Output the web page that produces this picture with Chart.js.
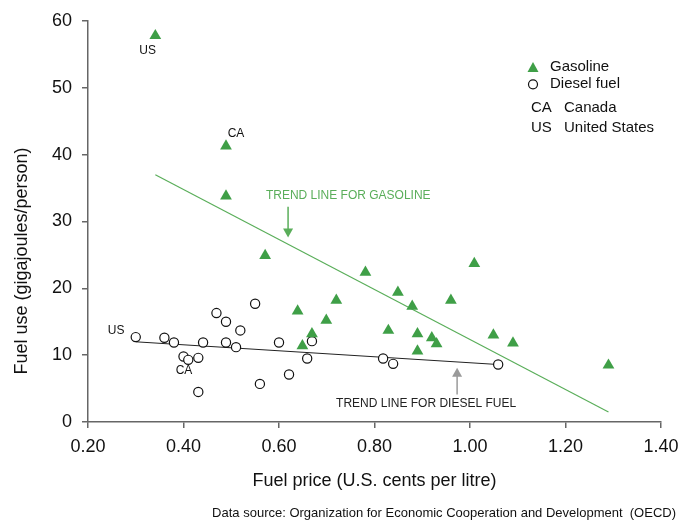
<!DOCTYPE html>
<html>
<head>
<meta charset="utf-8">
<script src="https://cdn.jsdelivr.net/npm/chart.js@4"></script>
<style>
  html, body { margin: 0; padding: 0; background: #fff; }
  #wrap { width: 694px; height: 520px; }
</style>
</head>
<body>
<div id="wrap"><canvas id="mainChart" width="694" height="520"></canvas></div>
<script>
// fuel price (US cents / litre) vs fuel use (GJ / person)
var gasPrice = [0.341, 0.489, 0.489, 0.571, 0.639, 0.649, 0.669, 0.699, 0.720, 0.781, 0.829,
                0.849, 0.879, 0.890, 0.890, 0.920, 0.930, 0.960, 1.009, 1.049, 1.090, 1.290];
var gasUse   = [57.8, 41.3, 33.8, 24.9, 16.6, 11.4, 13.2, 15.2, 18.2, 22.4, 13.7,
                19.4, 17.3, 13.2, 10.6, 12.6, 11.7, 18.2, 23.7, 13.0, 11.8, 8.5];

var dieselPrice = [0.300, 0.360, 0.380, 0.400, 0.410, 0.431, 0.441, 0.431, 0.469, 0.489, 0.489,
                   0.510, 0.519, 0.550, 0.560, 0.600, 0.621, 0.659, 0.669, 0.818, 0.839, 1.059];
var dieselUse   = [12.7, 12.6, 11.9, 9.8, 9.3, 9.6, 11.9, 4.5, 16.3, 15.0, 11.9,
                   11.2, 13.7, 17.7, 5.7, 11.9, 7.1, 9.5, 12.1, 9.5, 8.7, 8.6];

var gasTrendX = [0.341, 1.290];
var gasTrendY = [37.0, 1.5];
var dieselTrendX = [0.300, 1.059];
var dieselTrendY = [12.0, 8.6];

var xTicks = [0.2, 0.4, 0.6, 0.8, 1.0, 1.2, 1.4];
var yTicks = [0, 10, 20, 30, 40, 50, 60];

// text notes: [text, x, y, colour]
var notes = [
  ['US', 0.325, 55.6, '#111'],
  ['CA', 0.510, 43.2, '#111'],
  ['US', 0.259, 13.7, '#111'],
  ['CA', 0.401, 7.7, '#111'],
  ['TREND LINE FOR GASOLINE', 0.745, 33.9, '#5aae5a'],
  ['TREND LINE FOR DIESEL FUEL', 0.908, 2.8, '#222']
];
// arrows: [x, yFrom, yTip, colour]
var arrows = [
  [0.619, 32.2, 27.6, '#5aae5a'],
  [0.973, 4.1, 8.1, '#9a9a9a']
];

function pts(xs, ys) {
  return xs.map(function(x, i) { return { x: x, y: ys[i] }; });
}

var GREEN = '#3f9f47';
var AXIS = '#666';
var FONT = "'Liberation Sans', Arial, sans-serif";

var extras = {
  id: 'extras',
  afterDatasetsDraw: function(chart) {
    var ctx = chart.ctx;
    var xs = chart.scales.x, ys = chart.scales.y;
    ctx.save();
    ctx.textBaseline = 'middle';
    ctx.textAlign = 'center';
    ctx.font = '12px ' + FONT;
    notes.forEach(function(n) {
      ctx.fillStyle = n[3];
      ctx.fillText(n[0], xs.getPixelForValue(n[1]), ys.getPixelForValue(n[2]));
    });

    arrows.forEach(function(a) {
      var px = xs.getPixelForValue(a[0]);
      var y0 = ys.getPixelForValue(a[1]);
      var y1 = ys.getPixelForValue(a[2]);
      var dir = y1 > y0 ? 1 : -1;
      ctx.strokeStyle = a[3];
      ctx.fillStyle = a[3];
      ctx.lineWidth = 1.5;
      ctx.beginPath();
      ctx.moveTo(px, y0);
      ctx.lineTo(px, y1 - dir * 8);
      ctx.stroke();
      ctx.beginPath();
      ctx.moveTo(px, y1);
      ctx.lineTo(px - 5, y1 - dir * 9);
      ctx.lineTo(px + 5, y1 - dir * 9);
      ctx.closePath();
      ctx.fill();
    });

    // legend
    var lx = 533, tx = 550;
    ctx.textAlign = 'left';
    ctx.font = '15px ' + FONT;
    ctx.fillStyle = GREEN;
    ctx.beginPath();
    ctx.moveTo(lx, 62);
    ctx.lineTo(lx + 5.5, 72);
    ctx.lineTo(lx - 5.5, 72);
    ctx.closePath();
    ctx.fill();
    ctx.fillStyle = '#111';
    ctx.fillText('Gasoline', tx, 67);
    ctx.strokeStyle = '#111';
    ctx.lineWidth = 1.2;
    ctx.beginPath();
    ctx.arc(lx, 84.3, 4.5, 0, Math.PI * 2);
    ctx.stroke();
    ctx.fillText('Diesel fuel', tx, 84);
    ctx.fillText('CA', 531, 108);
    ctx.fillText('Canada', 564, 108);
    ctx.fillText('US', 531, 128);
    ctx.fillText('United States', 564, 128);

    // y title
    ctx.save();
    ctx.translate(22, 261);
    ctx.rotate(-Math.PI / 2);
    ctx.textAlign = 'center';
    ctx.font = '18px ' + FONT;
    ctx.fillText('Fuel use (gigajoules/person)', 0, 0);
    ctx.restore();

    // source line
    ctx.textAlign = 'right';
    ctx.font = '13px ' + FONT;
    ctx.fillText('Data source: Organization for Economic Cooperation and Development  (OECD)', 676, 513);
    ctx.restore();
  }
};

new Chart(document.getElementById('mainChart').getContext('2d'), {
  type: 'scatter',
  data: {
    datasets: [
      {
        label: 'Gasoline', data: pts(gasPrice, gasUse), order: 1,
        pointStyle: 'triangle', pointRadius: 6.8, backgroundColor: GREEN, borderColor: GREEN, borderWidth: 0
      },
      {
        label: 'Diesel fuel', data: pts(dieselPrice, dieselUse), order: 1,
        pointStyle: 'circle', pointRadius: 4.6, backgroundColor: '#fff', borderColor: '#111', borderWidth: 1.2
      },
      {
        label: 'gas trend', data: pts(gasTrendX, gasTrendY), order: 2, showLine: true,
        pointRadius: 0, borderColor: '#5aae5a', borderWidth: 1.2
      },
      {
        label: 'diesel trend', data: pts(dieselTrendX, dieselTrendY), order: 2, showLine: true,
        pointRadius: 0, borderColor: '#222', borderWidth: 1
      }
    ]
  },
  options: {
    responsive: false,
    devicePixelRatio: 1,
    animation: false,
    layout: { padding: { left: 0, right: 33, top: 21, bottom: 0 } },
    plugins: { legend: { display: false }, tooltip: { enabled: false } },
    scales: {
      x: {
        type: 'linear', min: 0.2, max: 1.4,
        afterFit: function(s) { s.height = 98; },
        afterBuildTicks: function(s) { s.ticks = xTicks.map(function(v) { return { value: v }; }); },
        ticks: {
          color: '#111', padding: 8, font: { family: FONT, size: 18 },
          callback: function(v) { return v.toFixed(2); }
        },
        grid: { drawOnChartArea: false, drawTicks: true, tickLength: 6, color: AXIS, lineWidth: 1.5 },
        border: { color: AXIS, width: 1.5 },
        title: {
          display: true, text: 'Fuel price (U.S. cents per litre)', color: '#111',
          font: { family: FONT, size: 18 }, padding: { top: 0, bottom: 28 }
        }
      },
      y: {
        type: 'linear', min: 0, max: 60,
        afterFit: function(s) { s.width = 88; },
        afterBuildTicks: function(s) { s.ticks = yTicks.map(function(v) { return { value: v }; }); },
        ticks: { color: '#111', padding: 10, font: { family: FONT, size: 18 } },
        grid: { drawOnChartArea: false, drawTicks: true, tickLength: 6, color: AXIS, lineWidth: 1.5 },
        border: { color: AXIS, width: 1.5 }
      }
    }
  },
  plugins: [extras]
});
</script>
</body>
</html>
